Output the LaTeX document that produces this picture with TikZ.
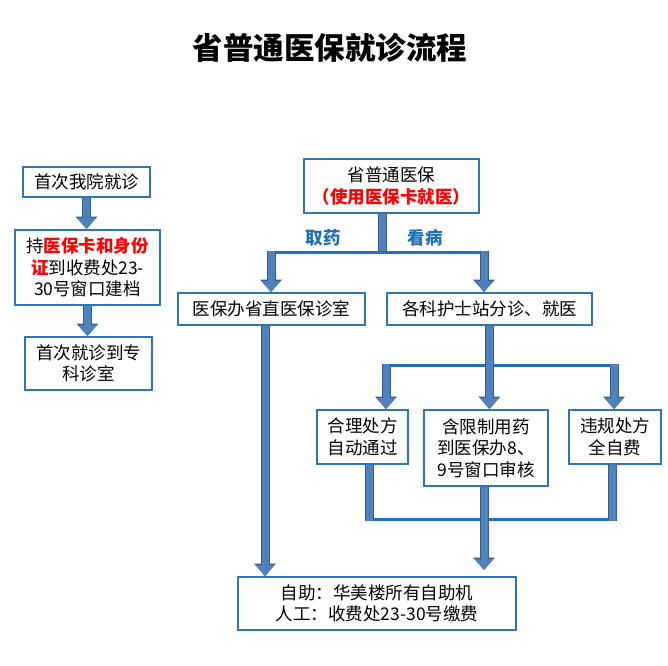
\documentclass[tikz,border=0pt]{standalone}
\usepackage{fontspec}
\setmainfont{Noto Sans CJK SC}
\usepackage{tikz}
\usetikzlibrary{arrows.meta}
\usetikzlibrary{positioning}

\definecolor{boxblue}{HTML}{2E75B6}
\definecolor{linkblue}{HTML}{1F70C1}
\definecolor{tagblue}{HTML}{1F6EB8}
\definecolor{fatfill}{HTML}{4F81BD}
\definecolor{fatedge}{HTML}{385D8A}
\definecolor{hired}{HTML}{FF0000}
\newcommand{\hl}[1]{{\bfseries\color{hired}#1}}

\begin{document}
\begin{tikzpicture}[x=1pt, y=-1pt,
    font=\fontsize{17.5}{21.5}\selectfont,
    box/.style={draw=boxblue, line width=1.8pt, fill=white, align=center, inner sep=0pt},
    tag/.style={text=tagblue, font=\fontsize{17.5}{21.5}\selectfont\bfseries},
    link/.style={draw=linkblue, line width=3pt},
    fat/.style={draw=fatfill, line width=7pt, preaction={draw=fatedge, line width=9pt}},
    fatarrow/.style={draw=fatfill, line width=7pt, -{Triangle[width=18pt,length=11pt]},
        preaction={draw=fatedge, line width=9pt, -{Triangle[width=21pt,length=12.5pt]}}}]

    \useasboundingbox (0,0) rectangle (668,665);

    % Title
    \node[font=\fontsize{30.5}{30.5}\selectfont\bfseries] (title) at (330,48) {省普通医保就诊流程}; %

    % Left column
    \node[box, minimum width=127pt, minimum height=30pt] (first) at (86.5,182) {首次我院就诊}; %
    \node[box, minimum width=145pt, minimum height=75pt] (card) at (87.5,267.5)
        {持\hl{医保卡和身份}\\\hl{证}到收费处23-\\30号窗口建档}; %
    \node[box, minimum width=127pt, minimum height=53pt] (clinic) at (88.5,363.5)
        {首次就诊到专\\科诊室}; %

    % Main nodes
    \node[box, minimum width=175pt, minimum height=54pt] (ins) at (391.5,186)
        {省普通医保\\\hl{（使用医保卡就医）}}; %
    \node[box, minimum width=187pt, minimum height=32pt] (office) at (271.5,309) {医保办省直医保诊室}; %
    \node[box, minimum width=205pt, minimum height=32pt] (triage) at (489.5,309) {各科护士站分诊、就医}; %

    % Prescriptions
    \node[box, minimum width=91pt, minimum height=54pt] (ok) at (362.5,437) {合理处方\\自动通过}; %
    \node[box, minimum width=124pt, minimum height=76pt] (limit) at (486,448)
        {含限制用药\\到医保办8、\\9号窗口审核}; %
    \node[box, minimum width=92pt, minimum height=54pt] (bad) at (615,437) {违规处方\\全自费}; %

    \node[box, minimum width=278pt, minimum height=53pt] (pay) at (377,603.5)
        {自助：华美楼所有自助机\\人工：收费处23-30号缴费}; %

    % Branch labels
    \node[tag] (fetch) at (323,238) {取药}; %
    \node[tag] (visit) at (425,238) {看病}; %

    % Junctions
    \coordinate (split)  at (382.5,252);
    \coordinate (splitL) at (271,252);
    \coordinate (splitR) at (484,252);
    \coordinate (forkL)  at (386,365);
    \coordinate (forkR)  at (614,365);
    \coordinate (joinL)  at (369,519);
    \coordinate (joinR)  at (612,519);
    \coordinate (drop)   at (484,570);
    \coordinate (side)   at (265,577);

    % Thin links
    \draw[link] ([xshift=-4.5pt]splitL) -- ([xshift=4.5pt]splitR);
    \draw[link] ([xshift=-4.5pt]forkL) -- ([xshift=4.5pt]forkR);
    \draw[link] ([xshift=-4.5pt]joinL) -- ([xshift=4.5pt]joinR);

    % Left column arrows
    \draw[fatarrow] (first.south) -- (first.south |- card.north);
    \draw[fatarrow] (card.south) -- (card.south |- clinic.north);

    % Main arrows
    \draw[fat] (split |- ins.south) -- ([yshift=1.5pt]split);
    \draw[fatarrow] ([yshift=1.5pt]splitL) -- (splitL |- office.north);
    \draw[fatarrow] ([yshift=1.5pt]splitR) -- (splitR |- triage.north);
    \draw[fatarrow] (triage.south) -- (triage.south |- limit.north);
    \draw[fatarrow] ([yshift=1.5pt]forkL) -- (forkL |- ok.north);
    \draw[fatarrow] ([yshift=1.5pt]forkR) -- (forkR |- bad.north);
    \draw[fat] (joinL |- ok.south) -- ([yshift=-1.5pt]joinL);
    \draw[fat] (joinR |- bad.south) -- ([yshift=-1.5pt]joinR);
    \draw[fatarrow] (drop |- limit.south) -- (drop);
    \draw[fatarrow] (side |- office.south) -- (side |- pay.north);

\end{tikzpicture}
\end{document}
